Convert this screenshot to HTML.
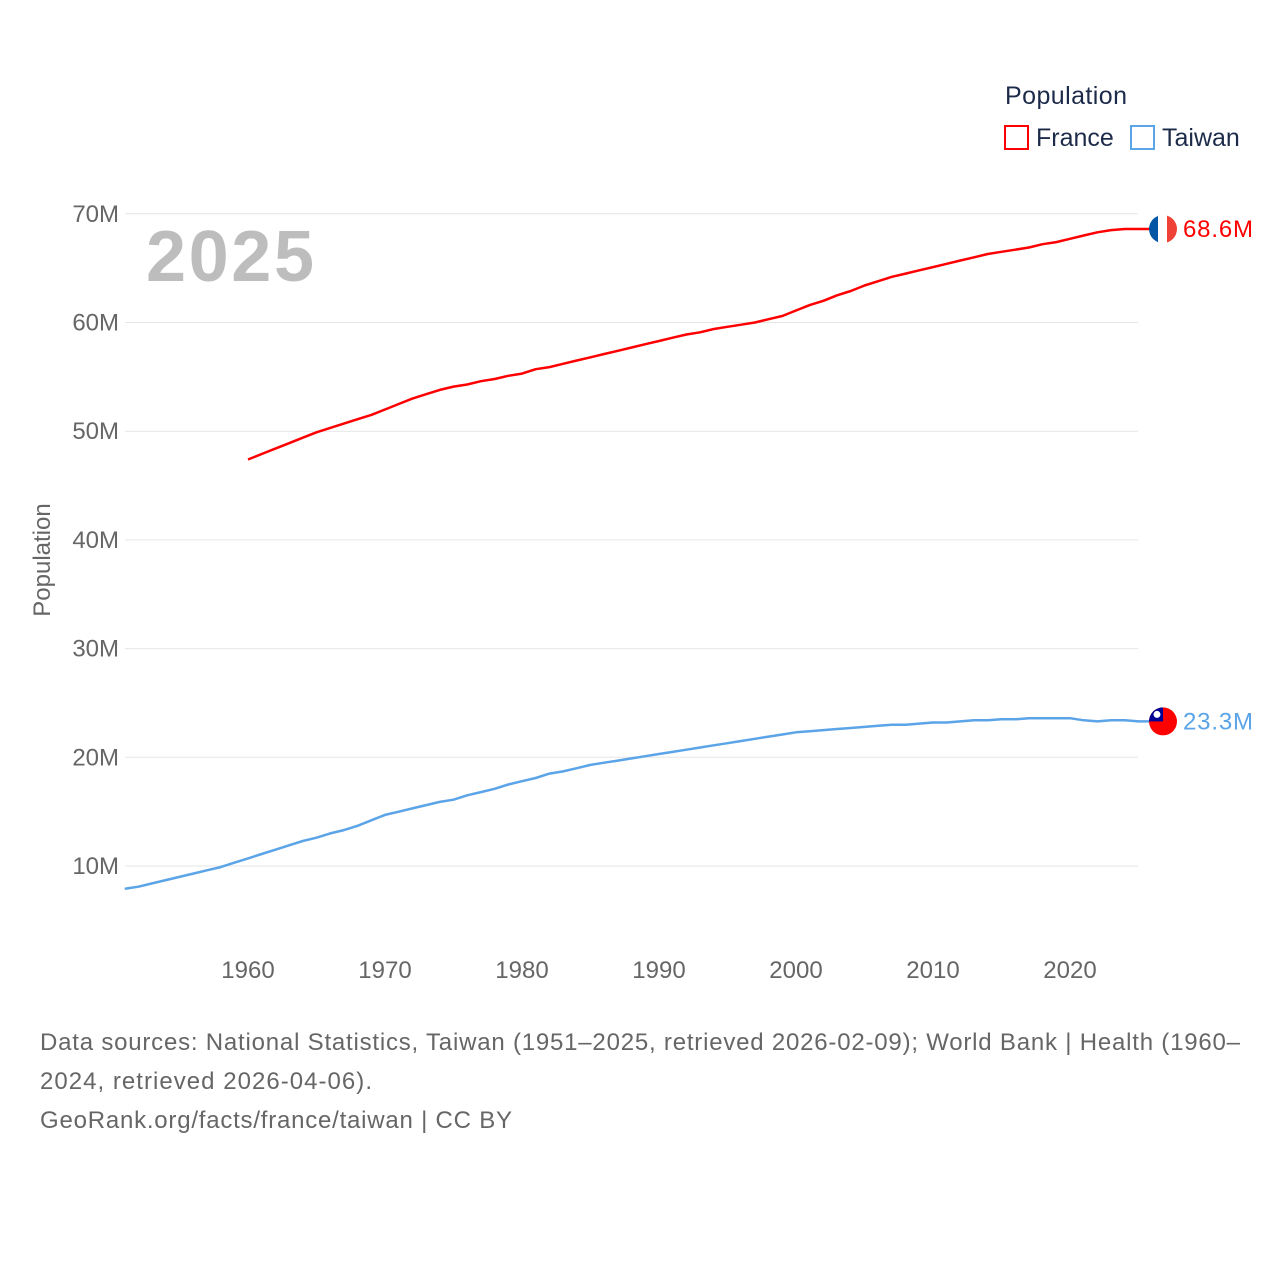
<!DOCTYPE html>
<html><head><meta charset="utf-8"><style>
body{margin:0;background:#fff;width:1280px;height:1280px;overflow:hidden;font-family:"Liberation Sans",sans-serif}
svg text{font-family:"Liberation Sans",sans-serif}
</style></head><body>
<svg id="chart" width="1280" height="1280">
<text x="1005" y="104" font-size="25" fill="#1d2b4a" textLength="122">Population</text>
<g><rect x="1005" y="126" width="23" height="23" fill="none" stroke="#f00" stroke-width="2"/><text x="1036" y="146" font-size="25" fill="#1d2b4a">France</text></g>
<g><rect x="1131" y="126" width="23" height="23" fill="none" stroke="#5ba4e8" stroke-width="2"/><text x="1162" y="146" font-size="25" fill="#1d2b4a">Taiwan</text></g>
<text x="146" y="281" font-size="72" font-weight="bold" fill="#bdbdbd" textLength="168">2025</text>
<text transform="translate(50,560) rotate(-90)" text-anchor="middle" font-size="24" fill="#666">Population</text>
<g id="grid"></g><g id="lines"></g>
<text x="40" y="1050" font-size="24" fill="#666" textLength="1200">Data sources: National Statistics, Taiwan (1951–2025, retrieved 2026-02-09); World Bank | Health (1960–</text>
<text x="40" y="1089" font-size="24" fill="#666" textLength="332">2024, retrieved 2026-04-06).</text>
<text x="40" y="1128" font-size="24" fill="#666" textLength="472">GeoRank.org/facts/france/taiwan | CC BY</text>
</svg>
<script>
const yTicks=[10,20,30,40,50,60,70];
const xTicks=[1960,1970,1980,1990,2000,2010,2020];
const franceYears=[1960,1961,1962,1963,1964,1965,1966,1967,1968,1969,1970,1971,1972,1973,1974,1975,1976,1977,1978,1979,1980,1981,1982,1983,1984,1985,1986,1987,1988,1989,1990,1991,1992,1993,1994,1995,1996,1997,1998,1999,2000,2001,2002,2003,2004,2005,2006,2007,2008,2009,2010,2011,2012,2013,2014,2015,2016,2017,2018,2019,2020,2021,2022,2023,2024];
const franceValues=[47.4,47.9,48.4,48.9,49.4,49.9,50.3,50.7,51.1,51.5,52.0,52.5,53.0,53.4,53.8,54.1,54.3,54.6,54.8,55.1,55.3,55.7,55.9,56.2,56.5,56.8,57.1,57.4,57.7,58.0,58.3,58.6,58.9,59.1,59.4,59.6,59.8,60.0,60.3,60.6,61.1,61.6,62.0,62.5,62.9,63.4,63.8,64.2,64.5,64.8,65.1,65.4,65.7,66.0,66.3,66.5,66.7,66.9,67.2,67.4,67.7,68.0,68.3,68.5,68.6];
const taiwanYears=[1951,1952,1953,1954,1955,1956,1957,1958,1959,1960,1961,1962,1963,1964,1965,1966,1967,1968,1969,1970,1971,1972,1973,1974,1975,1976,1977,1978,1979,1980,1981,1982,1983,1984,1985,1986,1987,1988,1989,1990,1991,1992,1993,1994,1995,1996,1997,1998,1999,2000,2001,2002,2003,2004,2005,2006,2007,2008,2009,2010,2011,2012,2013,2014,2015,2016,2017,2018,2019,2020,2021,2022,2023,2024,2025];
const taiwanValues=[7.9,8.1,8.4,8.7,9.0,9.3,9.6,9.9,10.3,10.7,11.1,11.5,11.9,12.3,12.6,13.0,13.3,13.7,14.2,14.7,15.0,15.3,15.6,15.9,16.1,16.5,16.8,17.1,17.5,17.8,18.1,18.5,18.7,19.0,19.3,19.5,19.7,19.9,20.1,20.3,20.5,20.7,20.9,21.1,21.3,21.5,21.7,21.9,22.1,22.3,22.4,22.5,22.6,22.7,22.8,22.9,23.0,23.0,23.1,23.2,23.2,23.3,23.4,23.4,23.5,23.5,23.6,23.6,23.6,23.6,23.4,23.3,23.4,23.4,23.3];
const X=y=>248+(y-1960)*13.7;
const Y=v=>974.7-v*10.87;
const NS="http://www.w3.org/2000/svg";
const grid=document.getElementById('grid'),lines=document.getElementById('lines');
function mk(p,tag,attrs){const e=document.createElementNS(NS,tag);for(const k in attrs)e.setAttribute(k,attrs[k]);p.appendChild(e);return e;}
yTicks.forEach(t=>{
 const l=mk(grid,'line',{x1:125,x2:1138,y1:Y(t),y2:Y(t),stroke:'#e6e6e6','stroke-width':1});
 
 
 const tx=mk(grid,'text',{x:119,y:Y(t)+8,'text-anchor':'end','font-size':24,fill:'#666'});tx.textContent=t+'M';
 
 
});
xTicks.forEach(t=>{
 const tx=mk(grid,'text',{x:X(t),y:978,'text-anchor':'middle','font-size':24,fill:'#666'});tx.textContent=t;
 
 
});
function series(yrs,vals,color,name,endX){
 let d=yrs.map((y,i)=>(i?'L':'M')+X(y).toFixed(1)+','+Y(vals[i]).toFixed(1)).join('');
 d+='L'+endX+','+Y(vals[vals.length-1]).toFixed(1);
 const p=mk(lines,'path',{d:d,fill:'none',stroke:color,'stroke-width':2.5,'stroke-linejoin':'round'});
 
 
 const ly=Y(vals[vals.length-1]);
 const tx=mk(lines,'text',{x:1183,y:ly+8,'font-size':24,fill:color,textLength:70});tx.textContent=vals[vals.length-1].toFixed(1)+'M';
 
 
 return ly;
}
const fy=series(franceYears,franceValues,'#f00','france',1150);
const ty=series(taiwanYears,taiwanValues,'#5ba4e8','taiwan',1150);
const ff=mk(lines,'g',{});


mk(ff,'clipPath',{id:'cf'});mk(ff.lastChild,'circle',{cx:1163,cy:fy,r:14});
const gf=mk(ff,'g',{'clip-path':'url(#cf)'});
mk(gf,'rect',{x:1149,y:fy-14,width:10,height:28,fill:'#0055a4'});
mk(gf,'rect',{x:1158,y:fy-14,width:10,height:28,fill:'#fff'});
mk(gf,'rect',{x:1167,y:fy-14,width:10,height:28,fill:'#ef4135'});
const tf=mk(lines,'g',{});


mk(tf,'clipPath',{id:'ct'});mk(tf.lastChild,'circle',{cx:1163,cy:ty,r:14});
const gt=mk(tf,'g',{'clip-path':'url(#ct)'});
mk(gt,'rect',{x:1149,y:ty-14,width:28,height:28,fill:'#fe0000'});
mk(gt,'rect',{x:1149,y:ty-14,width:14,height:14,fill:'#000095'});
mk(gt,'circle',{cx:1157,cy:ty-7,r:3.5,fill:'#fff'});
</script>
</body></html>
